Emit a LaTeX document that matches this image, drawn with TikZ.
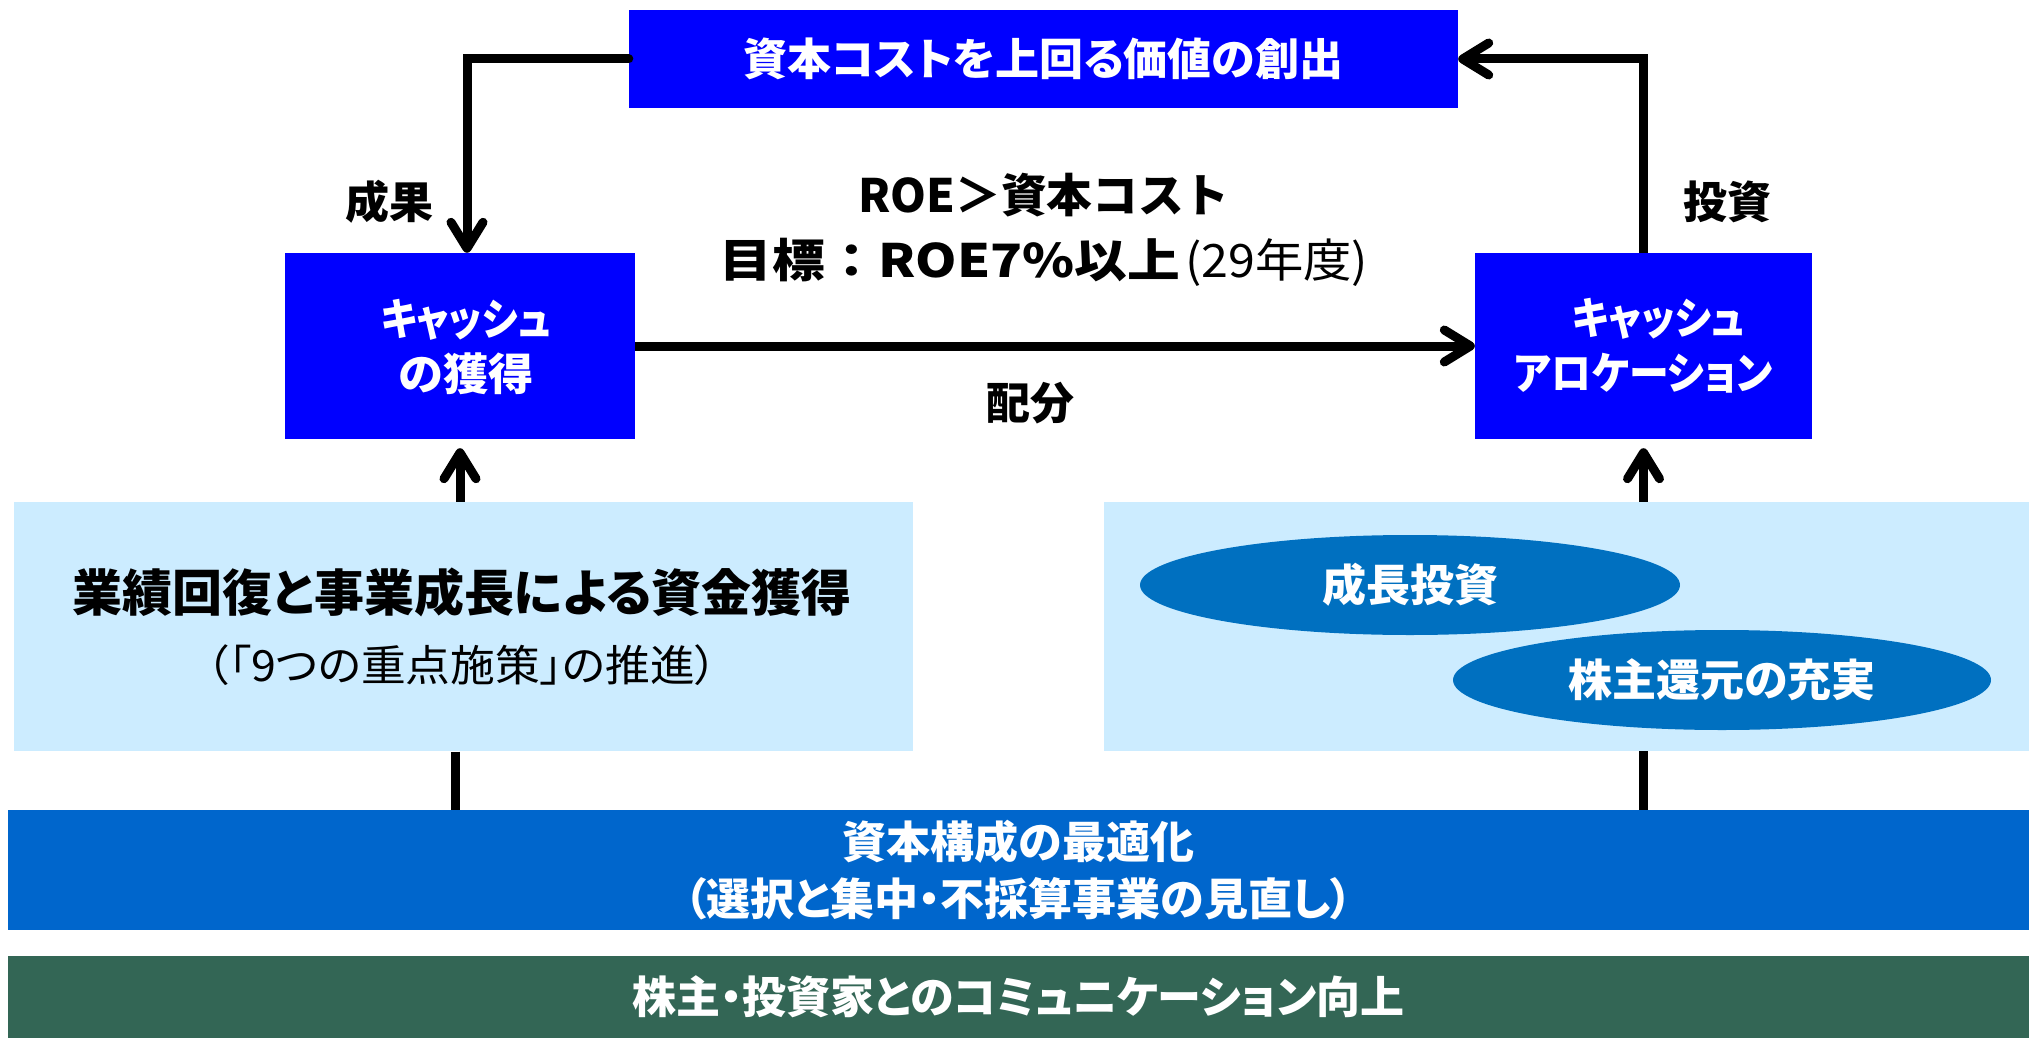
\documentclass[tikz,border=0pt]{standalone}
\usepackage{graphicx}
\usepackage{fontspec}
\setmainfont{Noto Sans CJK JP}[RawFeature=+palt]
\newfontfamily\jpfull{Noto Sans CJK JP}
\usetikzlibrary{arrows.meta,shapes.geometric}
\definecolor{boxblue}{RGB}{0,0,255}
\definecolor{lightbg}{RGB}{204,236,255}
\definecolor{ellblue}{RGB}{0,112,192}
\definecolor{bandblue}{RGB}{0,102,204}
\definecolor{bandgreen}{RGB}{51,102,85}
\newcommand{\fitw}[2]{\resizebox{#1}{\height}{#2}}
\begin{document}
\begin{tikzpicture}[x=1pt,y=-1pt,
  box/.style={fill=boxblue, draw=none, inner sep=0pt, text=white, align=center,
    font=\bfseries\fontsize{44}{55}\selectfont},
  lightbox/.style={fill=lightbg, draw=none, inner sep=0pt},
  band/.style={draw=none, inner sep=0pt, text=white, align=center,
    font=\bfseries\fontsize{44}{57}\selectfont},
  oval/.style={ellipse, fill=ellblue, draw=none, inner sep=0pt, text=white,
    font=\bfseries\fontsize{44}{52}\selectfont},
  lbl/.style={inner sep=0pt, align=center, font=\bfseries\fontsize{44}{52}\selectfont},
  conn/.style={line width=9pt, draw=black},
  arr/.style={conn, -{Straight Barb[length=26pt,width=32pt,round]}},
]
\useasboundingbox (0,0) rectangle (2029,1038);

% main boxes
\node[box, minimum width=829pt, minimum height=98pt] (top) at (1043.5,59) {資本コストを上回る価値の創出};
\node[box, minimum width=350pt, minimum height=186pt] (cashL) at (460,346) {};
\node[box] (cashLt) at (466,347) {\fitw{170pt}{キャッシュ}\\\fitw{135pt}{の獲得}};
\node[box, minimum width=337pt, minimum height=186pt] (cashR) at (1643.5,346) {\hspace*{30pt}\fitw{172pt}{キャッシュ}\\\fitw{259pt}{アロケーション}};

% light boxes
\node[lightbox, minimum width=899pt, minimum height=249pt] (lightL) at (463.5,626.5) {};
\node[lightbox, minimum width=925pt, minimum height=249pt] (lightR) at (1566.5,626.5) {};

\node[lbl, font=\bfseries\fontsize{50}{60}\selectfont] (gainT) at (462,592) {業績回復と事業成長による資金獲得};
\node[lbl, font=\mdseries\fontsize{43}{50}\selectfont] (gainS) at (462,665) {\fitw{511pt}{（「9つの重点施策」の推進）}};

\node[oval, minimum width=540pt, minimum height=100pt] (e1) at (1410,585) {成長投資};
\node[oval, minimum width=538pt, minimum height=100pt] (e2) at (1722,680) {株主還元の充実};

% bands
\node[band, fill=bandblue, minimum width=2021pt, minimum height=120pt] (bandB) at (1018.5,870) {資本構成の最適化\\（選択と集中・不採算事業の見直し）};
\node[band, fill=bandgreen, minimum width=2021pt, minimum height=82pt] (bandG) at (1018.5,997) {株主・投資家とのコミュニケーション向上};

% labels
\node[lbl] (seika) at (389,202) {成果};
\node[lbl] (toshi) at (1727,202) {投資};
\node[lbl] (haibun) at (1030,403) {配分};
\node[lbl, font=\jpfull\bfseries\fontsize{46}{65}\selectfont] (roe) at (1044,230)
  {\fitw{371pt}{ROE＞資本コスト}\\\fitw{460pt}{目標：ROE7\%以上}\hspace{5pt}\fitw{183pt}{\mdseries(29年度)}};

% connectors
\coordinate (c1) at (467,59);
\draw[arr, line cap=round] (top.west) -- (c1) -- (c1 |- cashL.north);
\draw[arr] (cashR.north) |- (top.east);
\draw[arr] (cashL.east) -- (cashR.west);
\draw[arr, shorten >=9pt] (lightL.north -| cashL.south) -- (cashL.south);
\draw[arr, shorten >=9pt] (lightR.north -| cashR.south) -- (cashR.south);
\coordinate (d1) at (455,751.5);
\draw[conn] (d1) -- (d1 |- bandB.north);
\draw[conn] (lightR.south -| cashR.south) -- (bandB.north -| cashR.south);
\end{tikzpicture}
\end{document}
